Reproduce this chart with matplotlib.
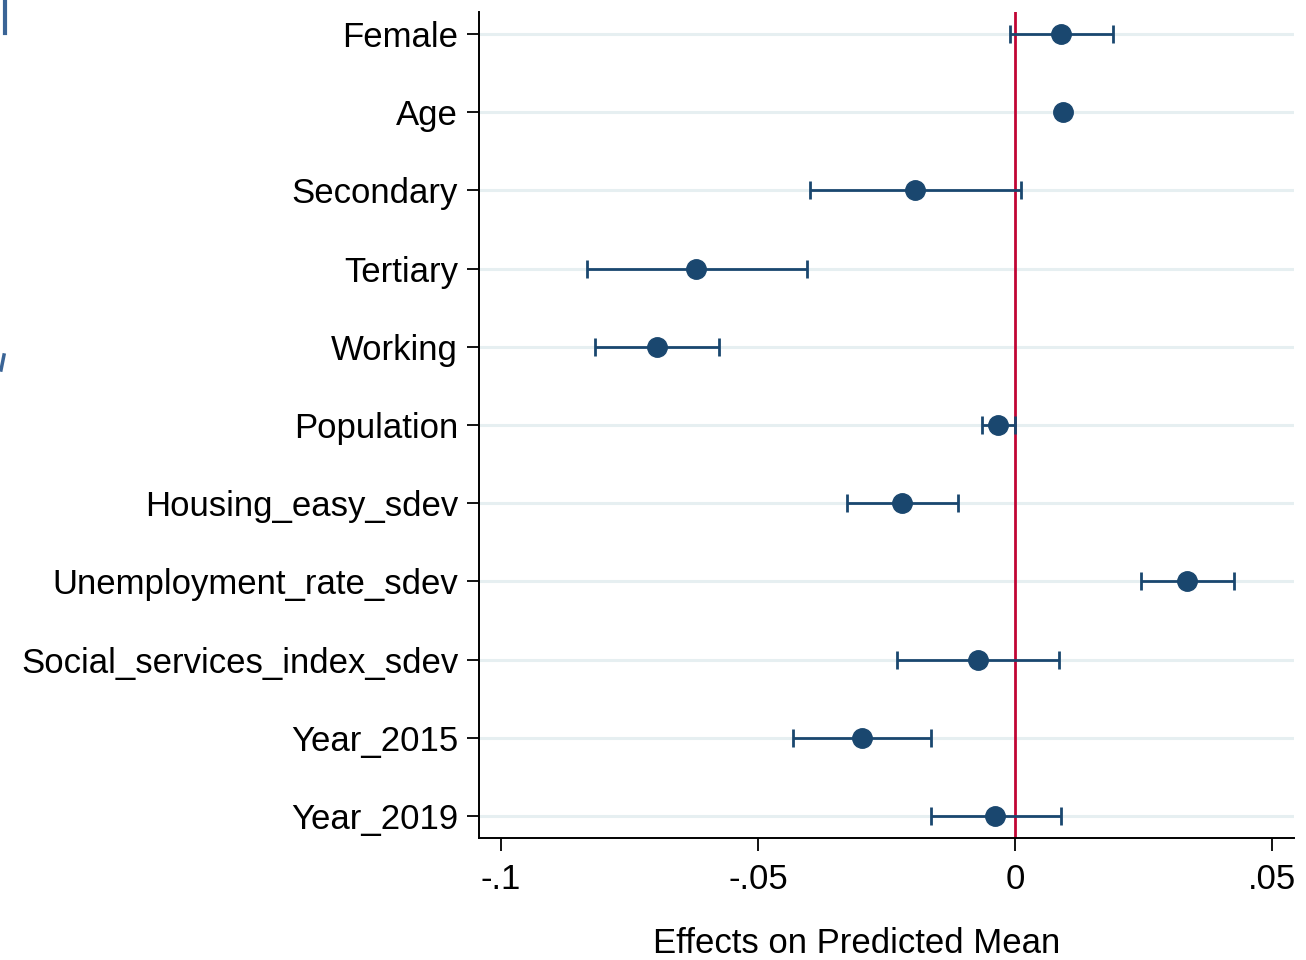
import matplotlib
matplotlib.use("Agg")
import matplotlib.pyplot as plt
from matplotlib.lines import Line2D

labels = ["Female", "Age", "Secondary", "Tertiary", "Working", "Population",
          "Housing_easy_sdev", "Unemployment_rate_sdev", "Social_services_index_sdev",
          "Year_2015", "Year_2019"]
estimates = [0.0090, 0.0093, -0.0195, -0.0621, -0.0697, -0.0033,
             -0.0220, 0.0335, -0.0072, -0.0298, -0.0039]
ci_low = [-0.0010, 0.0088, -0.0399, -0.0833, -0.0817, -0.0064,
          -0.0327, 0.0245, -0.0230, -0.0432, -0.0163]
ci_high = [0.0190, 0.0098, 0.0012, -0.0405, -0.0576, 0.0000,
           -0.0111, 0.0426, 0.0086, -0.0163, 0.0089]
xticks = [-0.1, -0.05, 0, 0.05]
xticklabels = ["-.1", "-.05", "0", ".05"]

plt.rcParams['font.family'] = ['Liberation Sans', 'DejaVu Sans']

navy = "#1a476f"
fig = plt.figure(figsize=(13.06, 9.6), dpi=100)
ax = fig.add_axes([479/1306, 1-838/960, (1294-479)/1306, (838-12)/960])

pos = list(range(1, len(labels)+1))
for p in pos:
    ax.axhline(p, color="#e6eff1", lw=2.2, zorder=0)
ax.axvline(0, color="#c10534", lw=2.0, zorder=1)

err_lo = [e - l for e, l in zip(estimates, ci_low)]
err_hi = [h - e for e, h in zip(estimates, ci_high)]
ax.errorbar(estimates, pos, xerr=[err_lo, err_hi], fmt='o', color=navy,
            ecolor=navy, elinewidth=2.0, capsize=6.5, capthick=2.0,
            markersize=14, zorder=3)

ax.set_ylim(11.28, 0.72)
ax.set_xlim(-0.1043, 0.0543)
ax.set_yticks(pos)
ax.set_yticklabels(labels, fontsize=25)
ax.set_xticks(xticks)
ax.set_xticklabels(xticklabels, fontsize=25)
ax.tick_params(axis='both', length=9, width=1.3, color="black")
ax.tick_params(axis='y', pad=6)
ax.tick_params(axis='x', pad=9)
for s in ["top", "right"]:
    ax.spines[s].set_visible(False)
for s in ["left", "bottom"]:
    ax.spines[s].set_linewidth(1.4)
ax.set_xlabel("Effects on Predicted Mean", fontsize=25)
ax.xaxis.set_label_coords((857-479)/815, -(927-838)/826)

# slide crop artifacts at left edge
fig.add_artist(Line2D([4.5/1306, 4.5/1306], [1-0/960, 1-33/960], color="#3a6496", lw=3))
fig.add_artist(Line2D([1/1306, 4/1306], [1-370/960, 1-355/960], color="#3a6496", lw=2.5))

fig.savefig("out.png", dpi=100)
